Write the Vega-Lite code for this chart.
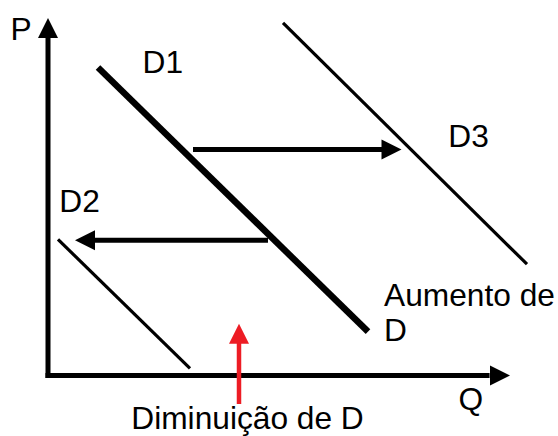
{
  "$schema": "https://vega.github.io/schema/vega-lite/v6.json",
  "width": 558,
  "height": 436,
  "padding": 0,
  "autosize": {"type": "fit", "contains": "padding"},
  "background": "white",
  "config": {"view": {"stroke": null}},
  "datasets": {
    "segments": [
      {"role": "axis", "q1": 0, "p1": -0.052, "q2": 0, "p2": 7.083},
      {"role": "axis", "q1": -0.052, "p1": 0, "q2": 9.2, "p2": 0},
      {"role": "D1", "q1": 1.042, "p1": 6.458, "q2": 6.667, "p2": 0.917},
      {"role": "D2", "q1": 0.208, "p1": 2.854, "q2": 2.958, "p2": 0.146},
      {"role": "D3", "q1": 4.896, "p1": 7.396, "q2": 9.979, "p2": 2.333},
      {"role": "shift", "q1": 3.021, "p1": 4.74, "q2": 6.98, "p2": 4.74},
      {"role": "shift", "q1": 4.583, "p1": 2.833, "q2": 0.96, "p2": 2.833},
      {"role": "indicator", "q1": 3.979, "p1": -0.6, "q2": 3.979, "p2": 0.69}
    ],
    "heads": [
      {"role": "axis", "dir": "up", "q": 0.0, "p": 7.29},
      {"role": "axis", "dir": "right", "q": 9.417, "p": 0},
      {"role": "shift", "dir": "right", "q": 7.156, "p": 4.74},
      {"role": "shift", "dir": "left", "q": 0.771, "p": 2.833},
      {"role": "indicator", "dir": "up", "q": 3.979, "p": 0.875}
    ],
    "labels": [
      {"label": "P", "q": -0.783, "p": 7.027},
      {"label": "D1", "q": 1.971, "p": 6.348},
      {"label": "D2", "q": 0.235, "p": 3.431},
      {"label": "D3", "q": 8.34, "p": 4.785},
      {"label": "Aumento de\nD", "q": 7.0, "p": 1.452},
      {"label": "Q", "q": 8.554, "p": -0.729},
      {"label": "Diminuição de D", "q": 1.735, "p": -1.119}
    ]
  },
  "encoding": {
    "x": {"type": "quantitative", "axis": null, "scale": {"domain": [-1, 10.625], "nice": false, "zero": false}},
    "y": {"type": "quantitative", "axis": null, "scale": {"domain": [-1.2083, 7.875], "nice": false, "zero": false}}
  },
  "layer": [
    {
      "data": {"name": "segments"},
      "transform": [{"filter": "datum.role === 'axis' || datum.role === 'shift'"}],
      "mark": {"type": "rule", "strokeCap": "butt", "strokeWidth": 5, "color": "#000000"},
      "encoding": {
        "x": {"field": "q1", "type": "quantitative"},
        "y": {"field": "p1", "type": "quantitative"},
        "x2": {"field": "q2"},
        "y2": {"field": "p2"}
      }
    },
    {
      "data": {"name": "segments"},
      "transform": [{"filter": "datum.role === 'D1'"}],
      "mark": {"type": "rule", "strokeCap": "butt", "strokeWidth": 6.5, "color": "#000000"},
      "encoding": {
        "x": {"field": "q1", "type": "quantitative"},
        "y": {"field": "p1", "type": "quantitative"},
        "x2": {"field": "q2"},
        "y2": {"field": "p2"}
      }
    },
    {
      "data": {"name": "segments"},
      "transform": [{"filter": "datum.role === 'D2' || datum.role === 'D3'"}],
      "mark": {"type": "rule", "strokeCap": "butt", "strokeWidth": 3.2, "color": "#000000"},
      "encoding": {
        "x": {"field": "q1", "type": "quantitative"},
        "y": {"field": "p1", "type": "quantitative"},
        "x2": {"field": "q2"},
        "y2": {"field": "p2"}
      }
    },
    {
      "data": {"name": "segments"},
      "transform": [{"filter": "datum.role === 'indicator'"}],
      "mark": {"type": "rule", "strokeCap": "butt", "strokeWidth": 4.5, "color": "#ED1C24"},
      "encoding": {
        "x": {"field": "q1", "type": "quantitative"},
        "y": {"field": "p1", "type": "quantitative"},
        "x2": {"field": "q2"},
        "y2": {"field": "p2"}
      }
    },
    {
      "data": {"name": "heads"},
      "transform": [{"filter": "datum.dir === 'up'"}],
      "mark": {"type": "point", "shape": "M-1,1L1,1L0,-1Z", "filled": true, "size": 400, "opacity": 1, "strokeWidth": 0},
      "encoding": {
        "x": {"field": "q", "type": "quantitative"},
        "y": {"field": "p", "type": "quantitative"},
        "color": {"field": "role", "type": "nominal", "legend": null, "scale": {"domain": ["axis", "shift", "indicator"], "range": ["#000000", "#000000", "#ED1C24"]}}
      }
    },
    {
      "data": {"name": "heads"},
      "transform": [{"filter": "datum.dir === 'right'"}],
      "mark": {"type": "point", "shape": "M-1,-1L-1,1L1,0Z", "filled": true, "size": 400, "opacity": 1, "strokeWidth": 0, "color": "#000000"},
      "encoding": {
        "x": {"field": "q", "type": "quantitative"},
        "y": {"field": "p", "type": "quantitative"}
      }
    },
    {
      "data": {"name": "heads"},
      "transform": [{"filter": "datum.dir === 'left'"}],
      "mark": {"type": "point", "shape": "M1,-1L1,1L-1,0Z", "filled": true, "size": 400, "opacity": 1, "strokeWidth": 0, "color": "#000000"},
      "encoding": {
        "x": {"field": "q", "type": "quantitative"},
        "y": {"field": "p", "type": "quantitative"}
      }
    },
    {
      "data": {"name": "labels"},
      "mark": {"type": "text", "align": "left", "baseline": "alphabetic", "font": "Liberation Sans", "fontSize": 31.7, "lineBreak": "\n", "lineHeight": 34.7, "color": "#000000"},
      "encoding": {
        "x": {"field": "q", "type": "quantitative"},
        "y": {"field": "p", "type": "quantitative"},
        "text": {"field": "label", "type": "nominal"}
      }
    }
  ]
}
